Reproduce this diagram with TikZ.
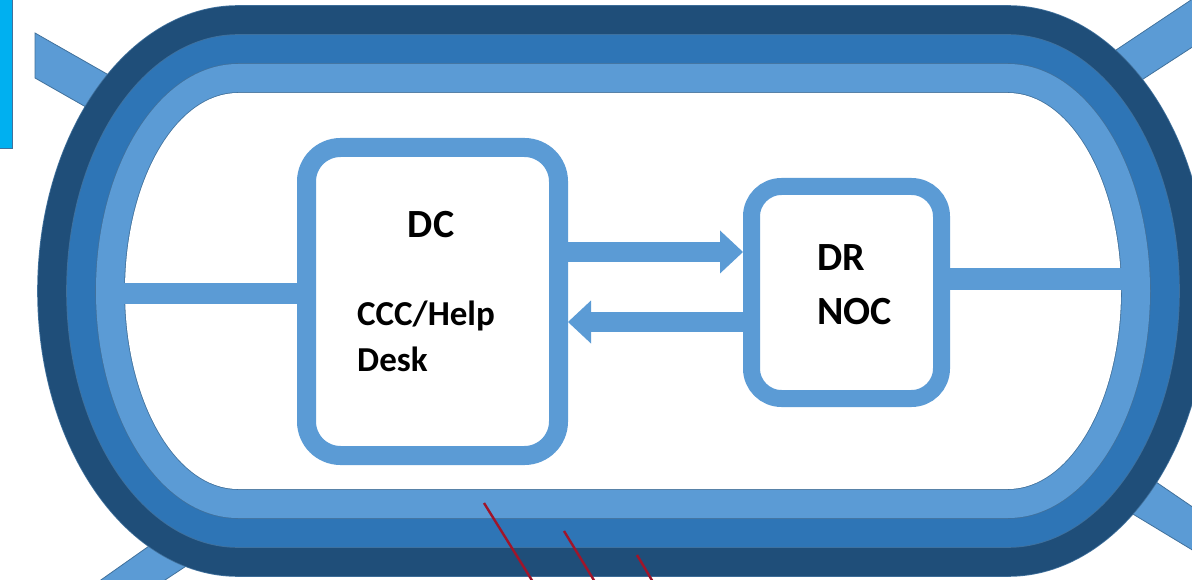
\documentclass[tikz,border=0pt]{standalone}
\usepackage{fontspec}
\setmainfont{Carlito}
\usetikzlibrary{arrows.meta}
\definecolor{navy}{HTML}{1F4E79}
\definecolor{midblue}{HTML}{2E75B6}
\definecolor{lightblue}{HTML}{5B9BD5}
\definecolor{edgeblue}{HTML}{41719C}
\definecolor{skyblue}{HTML}{00B0F0}
\definecolor{wine}{HTML}{A0152A}
% one band of the ring, #1 = inset, #2 = colour
\newcommand\ringband[2]{%
  \path[fill=#2, preaction={draw=edgeblue, line width=1.6pt}]
    (1008,{6+#1}) rectangle (238,{576-#1})
    (238,291) ellipse [x radius={200-#1}, y radius={285-#1}]
    (1008,291) ellipse [x radius={200-#1}, y radius={285-#1}];}
\begin{document}
\begin{tikzpicture}[x=1pt, y=-1pt,
  site/.style={rectangle, draw=lightblue, line width=19pt, fill=white, rounded corners=34pt, inner sep=0pt},
  link/.style={draw=lightblue, line width=20pt},
  fatarrow/.style={draw=lightblue, line width=20pt, -{Triangle[length=23pt, width=43pt, line width=0pt]}},
  spoke/.style={fill=lightblue, draw=edgeblue, line width=0.8pt},
  sitetext/.style={font=\bfseries, inner sep=0pt}]
\useasboundingbox (0,0) rectangle (1192,580);
% spokes behind the ring
\path[spoke] (35,33) -- (200,127) -- (200,172) -- (35,78) -- cycle;
\path[spoke] (1050,94) -- (1194,-2) -- (1194,46) -- (1080,120) -- cycle;
\path[spoke] (220,496) -- (98,582) -- (162,582) -- (250,524) -- cycle;
\path[spoke] (1080,430) -- (1194,508) -- (1194,551) -- (1060,470) -- cycle;
\path[fill=skyblue, draw=edgeblue, line width=0.8pt] (-2,-2) rectangle (12.5,148);
% the ring
\ringband{0}{navy}
\ringband{29}{midblue}
\ringband{58}{lightblue}
\ringband{87}{white}
\draw[wine, line width=2.4pt] (484,503) -- (533,582);
\draw[wine, line width=2.4pt] (564,531) -- (595,582);
\draw[wine, line width=2.4pt] (637,555) -- (653,582);
\coordinate (ringW) at (118,293.5);
\coordinate (ringE) at (1126,279);
\coordinate (upper) at (0,252);
\coordinate (lower) at (0,322);
\begin{scope}
\node[site, minimum width=252pt, minimum height=308pt] (dc) at (432.5,301.5) {};
\node[site, line width=17pt, rounded corners=30pt, minimum width=190pt, minimum height=212pt] (dr) at (846.5,292.5) {};
\end{scope}
\begin{scope}
\draw[link] (ringW) -- (dc.west |- ringW);
\draw[link, line width=22pt] (dr.east |- ringE) -- (ringE);
\draw[fatarrow] (dc.east |- upper) -- (dr.west |- upper);
\draw[fatarrow] (dr.west |- lower) -- (dc.east |- lower);
\end{scope}
\node[sitetext, font=\bfseries\fontsize{40}{48}\selectfont, anchor=base] (dcname) at (431,238) {DC};
\node[sitetext, font=\bfseries\fontsize{35}{46}\selectfont, anchor=base west, align=left] (dcrole) at (357,371) {CCC/Help\\Desk};
\node[sitetext, font=\bfseries\fontsize{40}{54}\selectfont, anchor=base west, align=left] (drname) at (817,324) {DR\\NOC};
\end{tikzpicture}
\end{document}
